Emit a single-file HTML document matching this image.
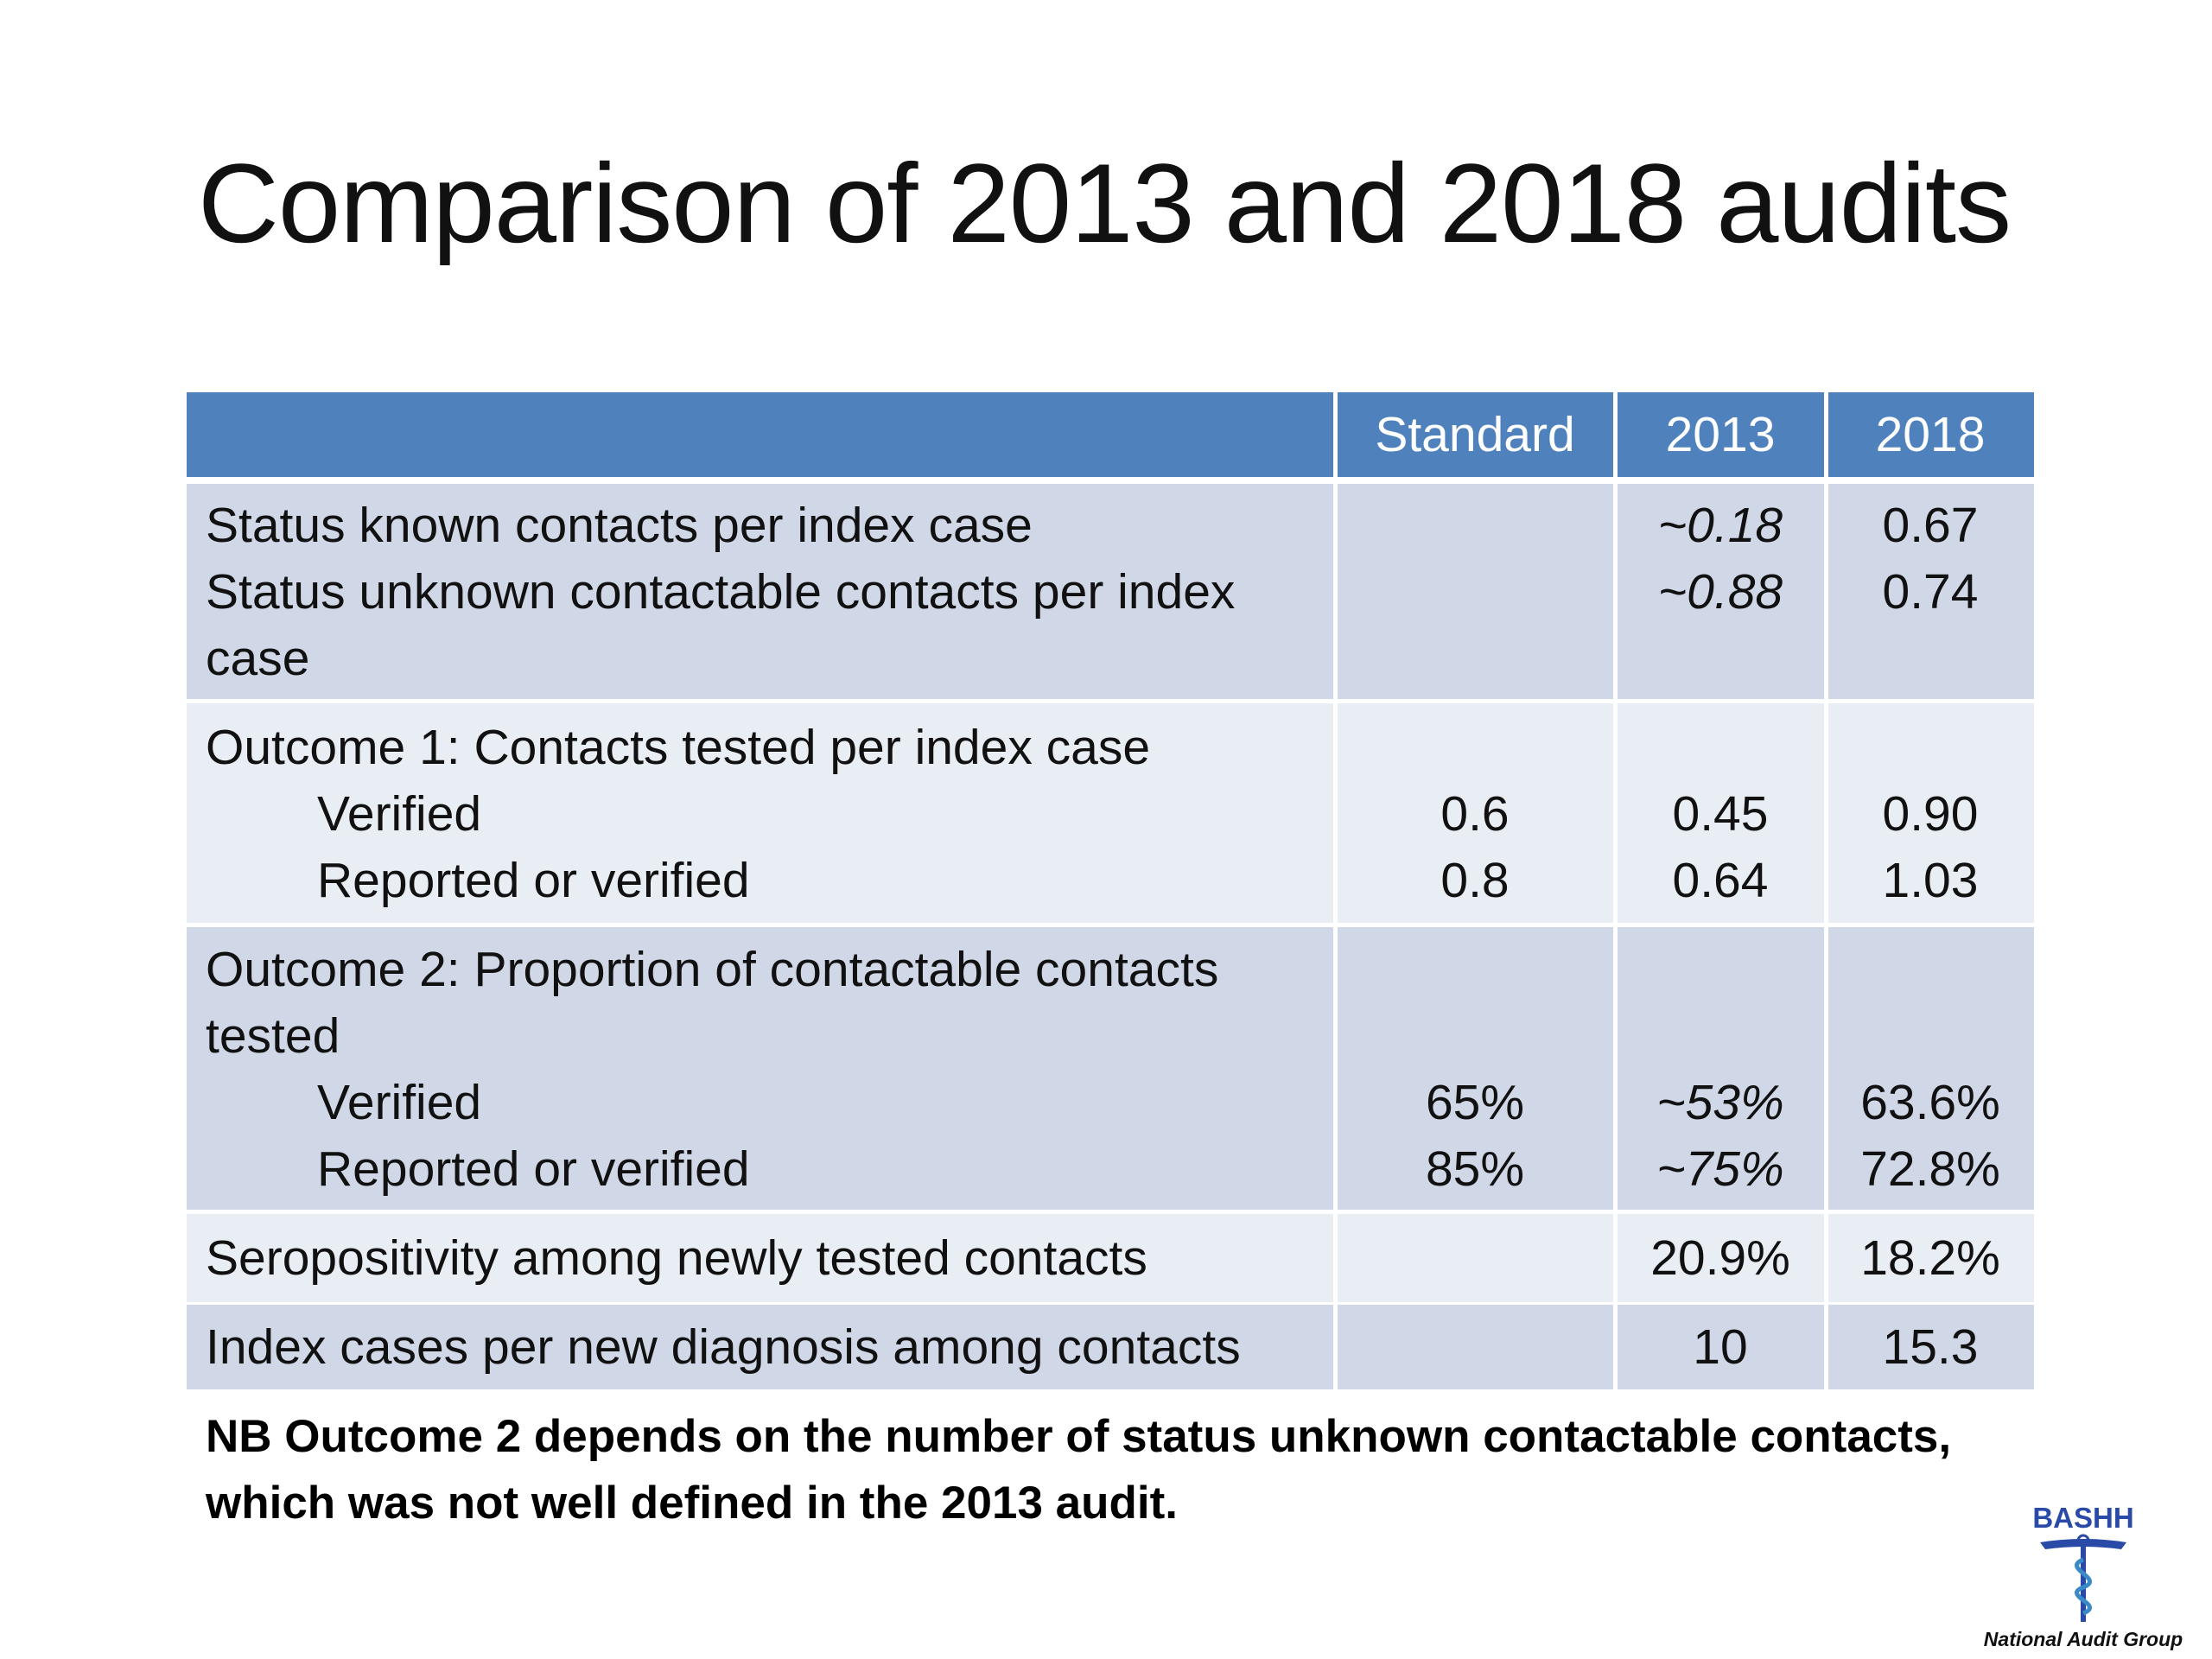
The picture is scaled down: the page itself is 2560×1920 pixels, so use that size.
<!DOCTYPE html>
<html><head><meta charset="utf-8"><style>
body{margin:0;width:2560px;height:1920px;background:#fff;position:relative;overflow:hidden;font-family:"Liberation Sans",sans-serif;}
.a{position:absolute;white-space:nowrap;}
.cell{position:absolute;}
.t{position:absolute;height:70px;line-height:70px;font-size:57px;color:#111;white-space:nowrap;}
.c{transform:translateX(-50%);}
.i{font-style:italic;}
.h{color:#fff;font-size:57px;}
</style></head><body>
<div class="a" style="left:229px;top:160px;font-size:130px;line-height:150px;color:#111;letter-spacing:-1px;">Comparison of 2013 and 2018 audits</div>

<div>
<div class="cell" style="left:216px;top:454px;width:2138px;height:98px;background:#4F81BD"></div>
<div class="cell" style="left:216px;top:560px;width:2138px;height:249px;background:#D0D8E8"></div>
<div class="cell" style="left:216px;top:814px;width:2138px;height:254px;background:#E9EDF4"></div>
<div class="cell" style="left:216px;top:1073px;width:2138px;height:327px;background:#D0D8E8"></div>
<div class="cell" style="left:216px;top:1405px;width:2138px;height:102px;background:#E9EDF4"></div>
<div class="cell" style="left:216px;top:1510px;width:2138px;height:98px;background:#D0D8E8"></div>
<div class="cell" style="left:1543px;top:454px;width:5px;height:1154px;background:#fff"></div>
<div class="cell" style="left:1867px;top:454px;width:5px;height:1154px;background:#fff"></div>
<div class="cell" style="left:2111px;top:454px;width:5px;height:1154px;background:#fff"></div>

<div class="t h c" style="left:1707px;top:468px">Standard</div>
<div class="t h c" style="left:1991px;top:468px">2013</div>
<div class="t h c" style="left:2234px;top:468px">2018</div>

<div class="t" style="left:238px;top:573px">Status known contacts per index case</div>
<div class="t" style="left:238px;top:650px">Status unknown contactable contacts per index</div>
<div class="t" style="left:238px;top:727px">case</div>
<div class="t c i" style="left:1991px;top:573px">~0.18</div>
<div class="t c" style="left:2234px;top:573px">0.67</div>
<div class="t c i" style="left:1991px;top:650px">~0.88</div>
<div class="t c" style="left:2234px;top:650px">0.74</div>

<div class="t" style="left:238px;top:830px">Outcome 1: Contacts tested per index case</div>
<div class="t" style="left:367px;top:907px">Verified</div>
<div class="t" style="left:367px;top:984px">Reported or verified</div>
<div class="t c" style="left:1707px;top:907px">0.6</div>
<div class="t c" style="left:1991px;top:907px">0.45</div>
<div class="t c" style="left:2234px;top:907px">0.90</div>
<div class="t c" style="left:1707px;top:984px">0.8</div>
<div class="t c" style="left:1991px;top:984px">0.64</div>
<div class="t c" style="left:2234px;top:984px">1.03</div>

<div class="t" style="left:238px;top:1087px">Outcome 2: Proportion of contactable contacts</div>
<div class="t" style="left:238px;top:1164px">tested</div>
<div class="t" style="left:367px;top:1241px">Verified</div>
<div class="t" style="left:367px;top:1318px">Reported or verified</div>
<div class="t c" style="left:1707px;top:1241px">65%</div>
<div class="t c i" style="left:1991px;top:1241px">~53%</div>
<div class="t c" style="left:2234px;top:1241px">63.6%</div>
<div class="t c" style="left:1707px;top:1318px">85%</div>
<div class="t c i" style="left:1991px;top:1318px">~75%</div>
<div class="t c" style="left:2234px;top:1318px">72.8%</div>

<div class="t" style="left:238px;top:1421px">Seropositivity among newly tested contacts</div>
<div class="t c" style="left:1991px;top:1421px">20.9%</div>
<div class="t c" style="left:2234px;top:1421px">18.2%</div>

<div class="t" style="left:238px;top:1524px">Index cases per new diagnosis among contacts</div>
<div class="t c" style="left:1991px;top:1524px">10</div>
<div class="t c" style="left:2234px;top:1524px">15.3</div>
</div>

<div class="t" style="left:238px;top:1628px;font-size:53px;font-weight:bold;color:#000">NB Outcome 2 depends on the number of status unknown contactable contacts,</div>
<div class="t" style="left:238px;top:1705px;font-size:53px;font-weight:bold;color:#000">which was not well defined in the 2013 audit.</div>

<div>
<div class="a c" style="left:2411px;top:1738px;font-size:33px;font-weight:bold;color:#2a4aa8">BASHH</div>
<svg class="a" style="left:2355px;top:1775px" width="112" height="105" viewBox="0 0 112 105">
<path d="M6 10 Q56 2 106 10 L100 18 Q56 12 12 18Z" fill="#2a4aa8"/>
<circle cx="56" cy="8" r="6" fill="none" stroke="#2a4aa8" stroke-width="3"/>
<rect x="53" y="14" width="6" height="88" fill="#2a4aa8"/>
<path d="M56 30 C30 40 82 52 56 62 C30 72 82 82 56 92" fill="none" stroke="#3a8ac8" stroke-width="5"/>
</svg>
<div class="a c" style="left:2411px;top:1884px;font-size:23px;font-weight:bold;font-style:italic;color:#111">National Audit Group</div>
</div>
</body></html>
